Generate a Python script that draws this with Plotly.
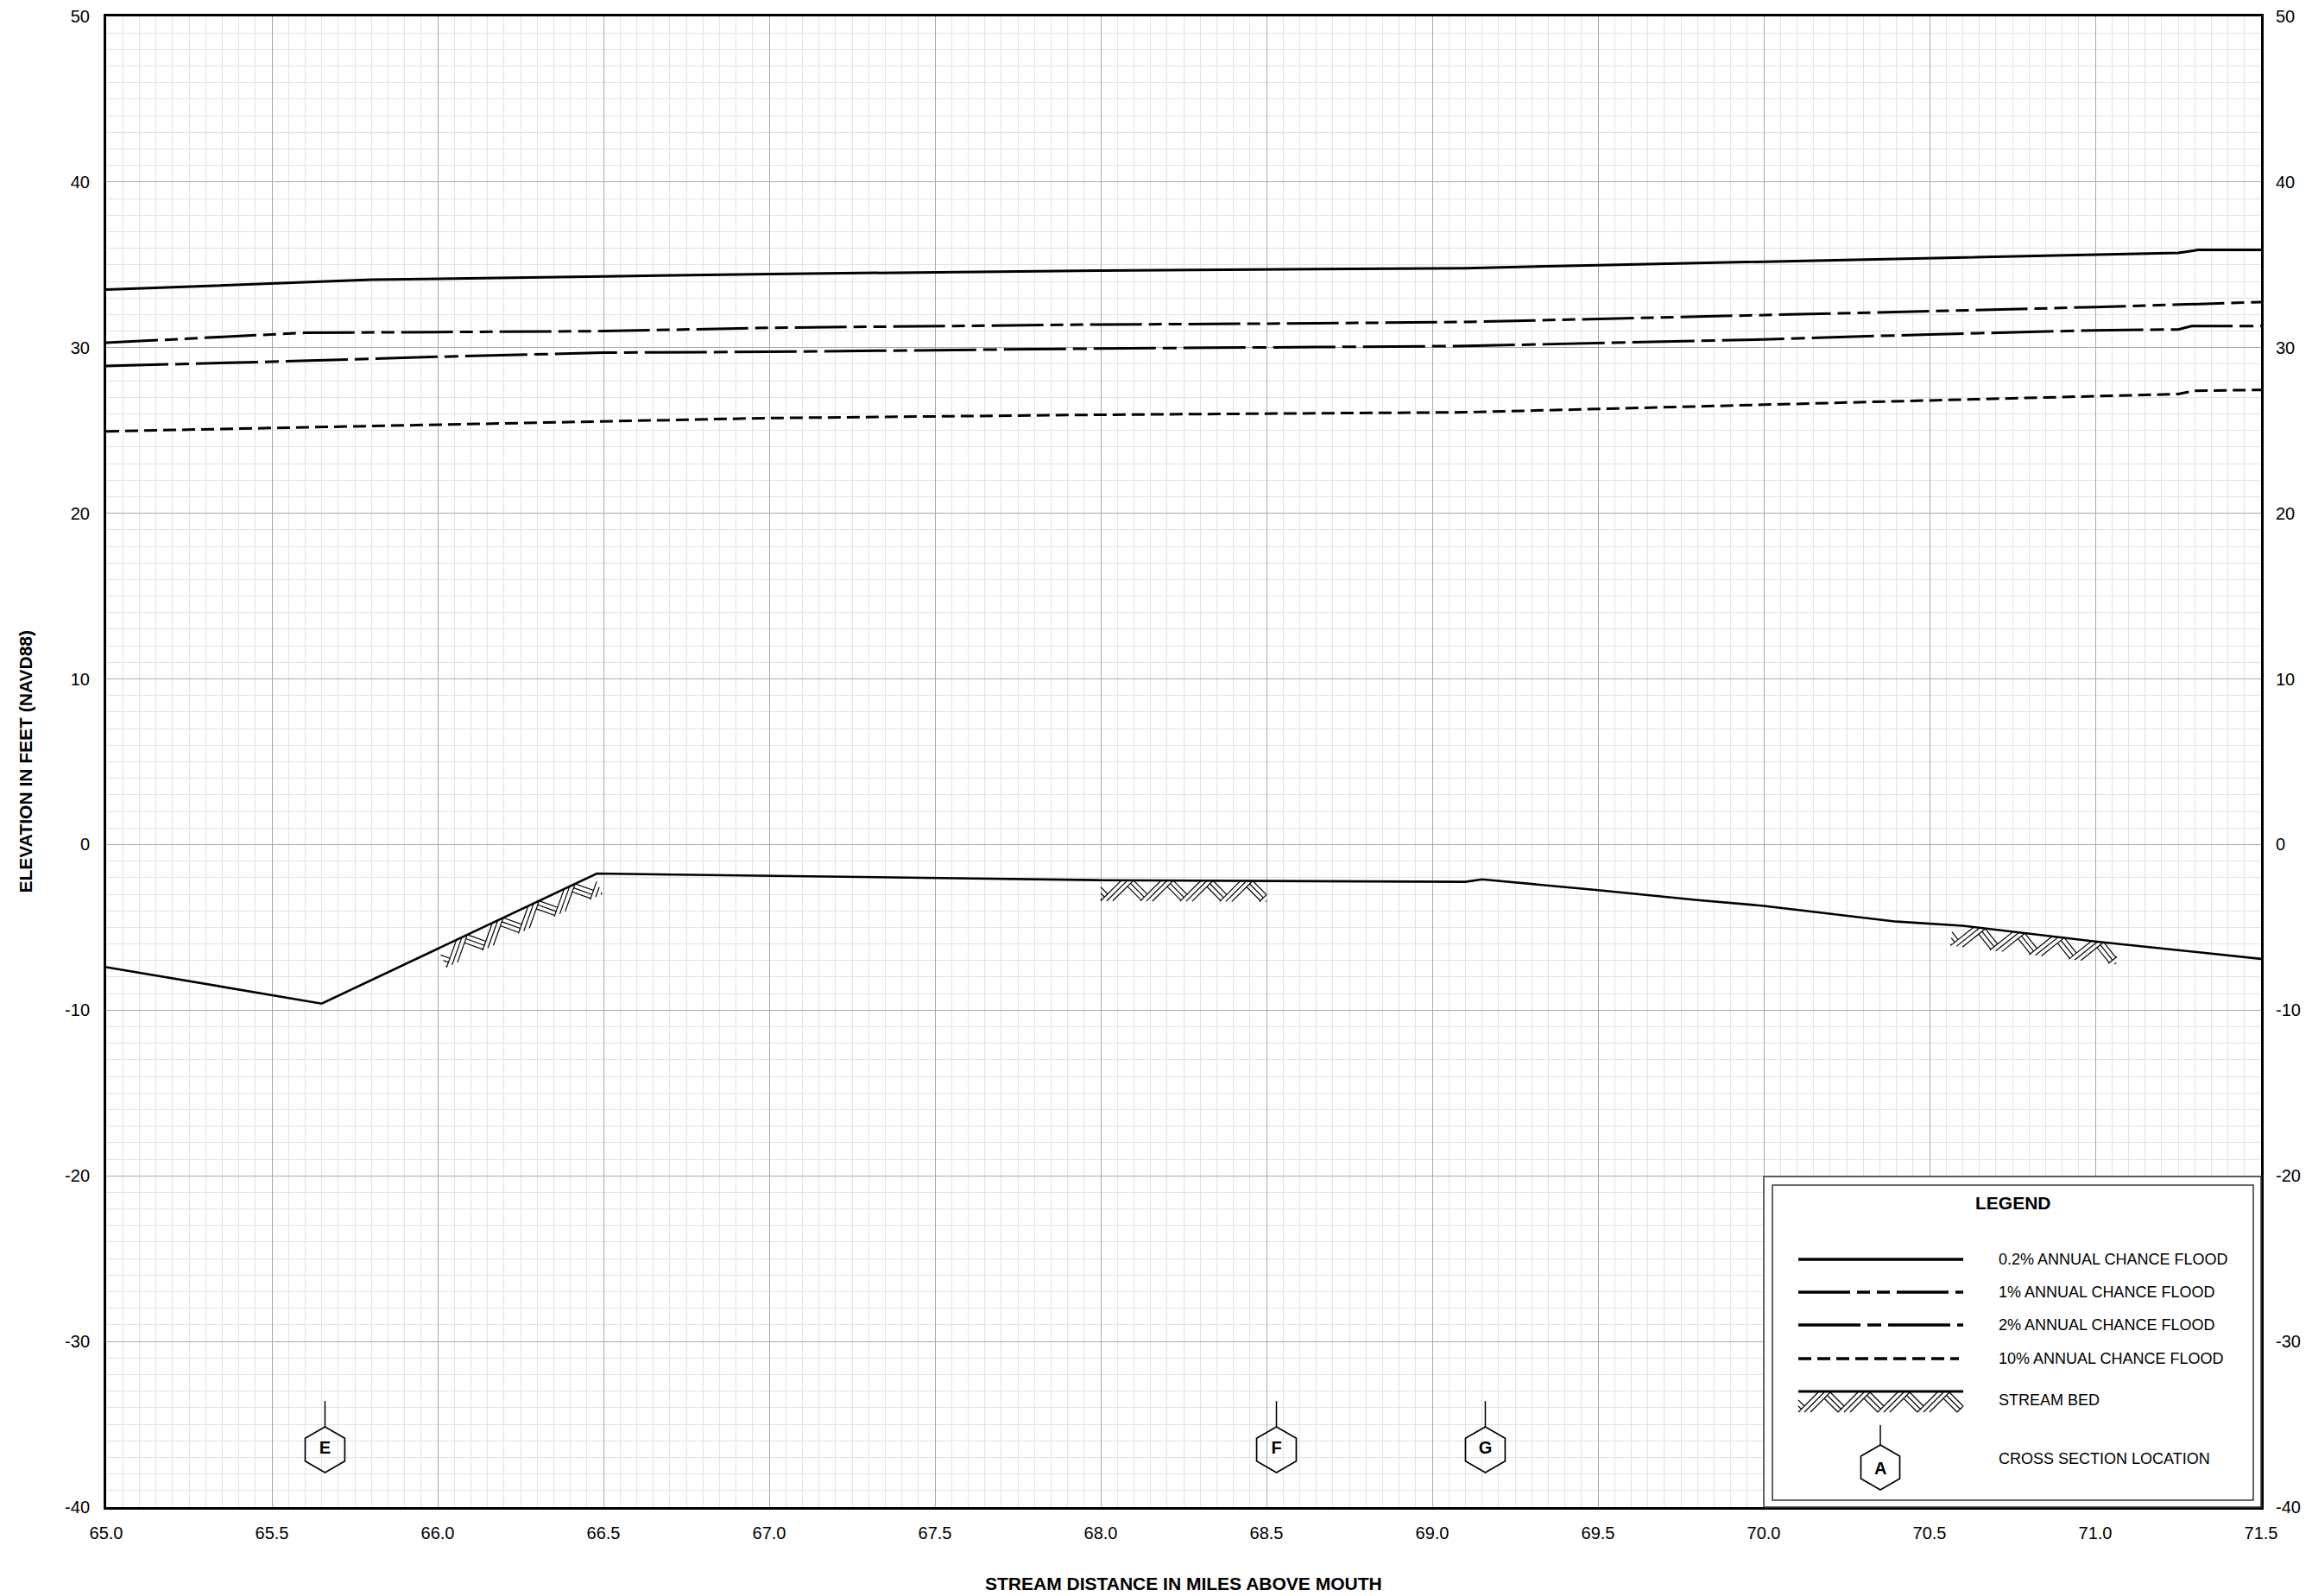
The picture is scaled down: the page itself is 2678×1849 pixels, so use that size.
import plotly.graph_objects as go

# ---- Flood profile data (stream distance in miles above mouth, elevation ft NAVD88) ----
x_02 = [65.0, 65.8, 66.5, 67.0, 68.0, 69.1, 69.5, 70.0, 70.5, 71.0, 71.25, 71.31, 71.5]
y_02 = [33.5, 34.1, 34.3, 34.45, 34.65, 34.8, 34.98, 35.2, 35.42, 35.62, 35.72, 35.9, 35.9]

x_1 = [65.0, 65.6, 66.5, 67.0, 68.0, 68.5, 69.1, 70.0, 70.5, 71.0, 71.5]
y_1 = [30.3, 30.9, 31.0, 31.2, 31.4, 31.45, 31.55, 31.95, 32.2, 32.45, 32.75]

x_2 = [65.0, 65.5, 66.0, 66.5, 67.0, 68.0, 69.1, 70.0, 70.5, 71.0, 71.25, 71.29, 71.5]
y_2 = [28.9, 29.15, 29.45, 29.7, 29.75, 29.95, 30.1, 30.5, 30.8, 31.05, 31.1, 31.3, 31.3]

x_10 = [65.0, 66.0, 66.5, 67.0, 68.0, 69.1, 69.5, 70.0, 70.5, 71.0, 71.25, 71.3, 71.5]
y_10 = [24.95, 25.35, 25.55, 25.75, 25.95, 26.1, 26.3, 26.55, 26.8, 27.05, 27.2, 27.4, 27.45]

bed_x = [65.0, 65.65, 66.48, 68.0, 69.1, 69.15, 69.5, 69.8, 70.0, 70.4, 70.6, 71.0, 71.5]
bed_y = [-7.4, -9.6, -1.75, -2.15, -2.25, -2.1, -2.75, -3.35, -3.7, -4.65, -4.9, -5.85, -6.9]

# stretches of stream bed drawn with the herringbone symbol
bed_hatch_ranges = [(66.0, 66.47), (68.0, 68.5), (70.57, 71.07)]

section_labels = ["E", "F", "G"]
section_miles = [65.66, 68.53, 69.16]

x_ticks = [65.0 + 0.5 * i for i in range(14)]
x_tick_text = ["%.1f" % v for v in x_ticks]
y_ticks = list(range(-40, 51, 10))
y_tick_text = [str(v) for v in y_ticks]

legend_labels = [
    "0.2% ANNUAL CHANCE FLOOD",
    "1% ANNUAL CHANCE FLOOD",
    "2% ANNUAL CHANCE FLOOD",
    "10% ANNUAL CHANCE FLOOD",
    "STREAM BED",
    "CROSS SECTION LOCATION",
]

# ---- page geometry ----
W, H = 2678, 1849
ML, MR, MT, MB = 123, 59, 19, 103
X_RANGE = (65.0, 71.5)
Y_RANGE = (-40.0, 50.0)
PW, PH = W - ML - MR, H - MT - MB
PPM = PW / (X_RANGE[1] - X_RANGE[0])   # pixels per mile
PPF = PH / (Y_RANGE[1] - Y_RANGE[0])   # pixels per foot

FONT = "Liberation Sans, Arial, sans-serif"
DASH_1 = "60px,8px,15px,8px,15px,8px"
DASH_2 = "72px,8px,16px,8px"
DASH_10 = "15px,7px"


def px_to_paper(px, py):
    return (px - ML) / PW, (H - MB - py) / PH


def interp(xs, ys, x):
    for i in range(len(xs) - 1):
        if xs[i] <= x <= xs[i + 1]:
            f = (x - xs[i]) / (xs[i + 1] - xs[i])
            return ys[i] + f * (ys[i + 1] - ys[i])
    return ys[-1]


def herringbone(length, depth=24.0, period=46.0, gap=7.0):
    """Segments (u, v) of a herringbone band: u along the bed, v downward."""
    segs = []
    u0 = -3 * period
    while u0 < length + period:
        for j in range(3):
            segs.append(((u0 + j * gap, depth), (u0 + j * gap + depth, 0.0)))
        for i in range(3):
            sv = i * gap / 2.0
            su = u0 + 2 * gap + depth - sv
            uc = (depth + u0 + period + su - sv) / 2.0
            vc = sv + uc - su
            if vc > depth:
                uc, vc = su + (depth - sv), depth
            segs.append(((su, sv), (uc, vc)))
        u0 += period
    out = []
    for (u1, v1), (u2, v2) in segs:
        if u1 > u2:
            u1, v1, u2, v2 = u2, v2, u1, v1
        if u2 <= 0 or u1 >= length:
            continue
        a, b = 0.0, 1.0
        if u1 < 0:
            a = (0 - u1) / (u2 - u1)
        if u2 > length:
            b = (length - u1) / (u2 - u1)
        p1 = (u1 + a * (u2 - u1), v1 + a * (v2 - v1))
        p2 = (u1 + b * (u2 - u1), v1 + b * (v2 - v1))
        out.append((p1, p2))
    return out


def hatch_along(x0, y0, x1, y1):
    """Herringbone below the bed between two data points, returned in data units."""
    dxp = (x1 - x0) * PPM
    dyp = -(y1 - y0) * PPF
    length = (dxp ** 2 + dyp ** 2) ** 0.5
    tx, ty = dxp / length, dyp / length
    nx, ny = -ty, tx
    hx, hy = [], []
    for (u1, v1), (u2, v2) in herringbone(length):
        for u, v in ((u1, v1), (u2, v2)):
            px = u * tx + v * nx
            py = u * ty + v * ny
            hx.append(x0 + px / PPM)
            hy.append(y0 - py / PPF)
        hx.append(None)
        hy.append(None)
    return hx, hy


fig = go.Figure()

# stream bed symbol
hatch_x, hatch_y = [], []
for a, b in bed_hatch_ranges:
    hx, hy = hatch_along(a, interp(bed_x, bed_y, a), b, interp(bed_x, bed_y, b))
    hatch_x += hx
    hatch_y += hy
fig.add_trace(go.Scatter(x=hatch_x, y=hatch_y, mode="lines",
                         line=dict(color="black", width=1.2),
                         hoverinfo="skip", showlegend=False))

fig.add_trace(go.Scatter(x=bed_x, y=bed_y, mode="lines", name="STREAM BED",
                         line=dict(color="black", width=2.6), showlegend=False))

profiles = [
    (x_02, y_02, "solid"),
    (x_1, y_1, DASH_1),
    (x_2, y_2, DASH_2),
    (x_10, y_10, DASH_10),
]
for (xs, ys, dash), name in zip(profiles, legend_labels):
    fig.add_trace(go.Scatter(x=xs, y=ys, mode="lines", name=name,
                             line=dict(color="black", width=3, dash=dash),
                             showlegend=False))

# cross section locations
SEC_Y = -36.53
stem_x, stem_y = [], []
for m in section_miles:
    stem_x += [m, m, None]
    stem_y += [-33.6, -35.15, None]
fig.add_trace(go.Scatter(x=stem_x, y=stem_y, mode="lines",
                         line=dict(color="black", width=1.5),
                         hoverinfo="skip", showlegend=False))
fig.add_trace(go.Scatter(x=section_miles, y=[SEC_Y] * len(section_miles),
                         mode="markers+text",
                         text=["<b>%s</b>" % s for s in section_labels],
                         textposition="middle center",
                         textfont=dict(family=FONT, size=20, color="black"),
                         marker=dict(symbol="hexagon-open", size=53,
                                     color="black", line=dict(width=1.7, color="black")),
                         showlegend=False))

# right-hand elevation scale
fig.add_trace(go.Scatter(x=[X_RANGE[0]], y=[0], yaxis="y2", mode="markers",
                         marker=dict(opacity=0), hoverinfo="skip", showlegend=False))

# ---- legend block ----
shapes = []
annotations = []

def rect(x0, y0, x1, y1, **kw):
    a0 = px_to_paper(x0, y1)
    a1 = px_to_paper(x1, y0)
    shapes.append(dict(type="rect", xref="paper", yref="paper",
                       x0=a0[0], y0=a0[1], x1=a1[0], y1=a1[1], layer="above", **kw))

def seg(x0, y0, x1, y1, width=3.3, dash="solid"):
    a = px_to_paper(x0, y0)
    b = px_to_paper(x1, y1)
    shapes.append(dict(type="line", xref="paper", yref="paper",
                       x0=a[0], y0=a[1], x1=b[0], y1=b[1], layer="above",
                       line=dict(color="black", width=width, dash=dash)))

def path(points_list, width=1.3, closed=False):
    parts = []
    for pts in points_list:
        cmd = []
        for k, (px, py) in enumerate(pts):
            qx, qy = px_to_paper(px, py)
            cmd.append(("M" if k == 0 else "L") + "%.6f,%.6f" % (qx, qy))
        if closed:
            cmd.append("Z")
        parts.append(" ".join(cmd))
    shapes.append(dict(type="path", xref="paper", yref="paper", path=" ".join(parts),
                       layer="above", line=dict(color="black", width=width)))

def text(px, py, s, size=18, bold=False, anchor="left"):
    qx, qy = px_to_paper(px, py)
    annotations.append(dict(xref="paper", yref="paper", x=qx, y=qy, text=("<b>%s</b>" % s) if bold else s,
                            showarrow=False, xanchor=anchor, yanchor="middle",
                            font=dict(family=FONT, size=size, color="black")))

rect(2043, 1363, W - MR, H - MB, fillcolor="white", line=dict(color="#333333", width=1.5))
rect(2053, 1373, 2610, 1738, fillcolor="rgba(0,0,0,0)", line=dict(color="#333333", width=1.5))
text(2332, 1393, "LEGEND", size=21, bold=True, anchor="center")

LX0, LX1, TX = 2083, 2274, 2313
row_y = [1459, 1497, 1535, 1574, 1622, 1690]
seg(LX0, row_y[0], LX1, row_y[0])
seg(LX0, row_y[1], LX1, row_y[1], dash=DASH_1)
seg(LX0, row_y[2], LX1, row_y[2], dash=DASH_2)
seg(LX0, row_y[3], LX1 - 5, row_y[3], dash=DASH_10)
seg(LX0, 1612, LX1, 1612, width=3)
path([[(LX0 + u, 1613 + v) for (u, v) in s] for s in herringbone(LX1 - LX0, depth=23.0)], width=1.2)
for lbl, yy in zip(legend_labels, row_y):
    text(TX, yy, lbl, size=18)

# legend hexagon
cx, cy, r = 2178, 1700, 26
rt = r * 3 ** 0.5 / 2
path([[(cx, cy - r), (cx + rt, cy - r / 2), (cx + rt, cy + r / 2), (cx, cy + r),
       (cx - rt, cy + r / 2), (cx - rt, cy - r / 2)]], width=1.7, closed=True)
seg(cx, cy - r - 23, cx, cy - r, width=1.5)
text(cx, cy + 1, "A", size=20, bold=True, anchor="center")

# axis titles
annotations.append(dict(xref="paper", yref="paper", x=0.5, y=px_to_paper(0, 1834)[1],
                        text="<b>STREAM DISTANCE IN MILES ABOVE MOUTH</b>", showarrow=False,
                        xanchor="center", yanchor="middle",
                        font=dict(family=FONT, size=21, color="black")))
annotations.append(dict(xref="paper", yref="paper", x=px_to_paper(29, 0)[0], y=0.5,
                        text="<b>ELEVATION IN FEET (NAVD88)</b>", showarrow=False, textangle=-90,
                        xanchor="center", yanchor="middle",
                        font=dict(family=FONT, size=21, color="black")))

tickfont = dict(family=FONT, size=20, color="black")
fig.update_layout(
    width=W, height=H,
    margin=dict(l=ML, r=MR, t=MT, b=MB, pad=0, autoexpand=False),
    paper_bgcolor="white", plot_bgcolor="white",
    font=dict(family=FONT, color="black"),
    showlegend=False,
    xaxis=dict(range=list(X_RANGE), tickmode="array", tickvals=x_ticks, ticktext=x_tick_text,
               showgrid=True, gridcolor="#a9a9a9", gridwidth=1.3,
               minor=dict(tick0=65, dtick=0.05, showgrid=True, gridcolor="#e3e3e3", gridwidth=1),
               showline=True, linecolor="black", linewidth=3, mirror=True,
               ticks="outside", ticklen=10, tickcolor="rgba(0,0,0,0)", automargin=False,
               zeroline=False, tickfont=tickfont),
    yaxis=dict(range=list(Y_RANGE), tickmode="array", tickvals=y_ticks, ticktext=y_tick_text,
               showgrid=True, gridcolor="#a9a9a9", gridwidth=1.3,
               minor=dict(tick0=0, dtick=1, showgrid=True, gridcolor="#e3e3e3", gridwidth=1),
               showline=True, linecolor="black", linewidth=3, mirror=True,
               ticks="outside", ticklen=12, tickcolor="rgba(0,0,0,0)", automargin=False,
               zeroline=False, tickfont=tickfont),
    yaxis2=dict(range=list(Y_RANGE), tickmode="array", tickvals=y_ticks, ticktext=y_tick_text,
                overlaying="y", side="right", automargin=False,
                showgrid=False, zeroline=False, showline=False,
                ticks="outside", ticklen=12, tickcolor="rgba(0,0,0,0)", tickfont=tickfont),
    shapes=shapes,
    annotations=annotations,
)

fig.write_html("out.html")
